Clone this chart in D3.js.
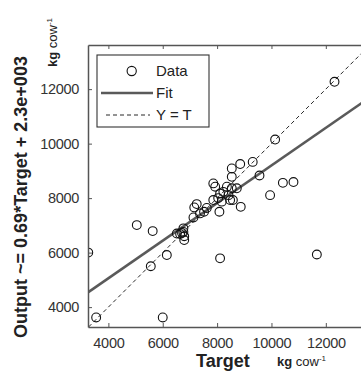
<!DOCTYPE html>
<html><head><meta charset="utf-8">
<script src="https://cdn.jsdelivr.net/npm/d3@7"></script>
<style>
html,body{margin:0;padding:0;background:#fff;overflow:hidden}
svg{display:block;font-family:"Liberation Sans",Arial,sans-serif}
</style></head>
<body>
<script>
// Data: Target vs Output (kg cow^-1)
const target = [3260,3550,6000,5045,5630,6150,5560,6520,6640,6760,6790,6790,6710,6760,
  7160,7130,7370,7520,7250,7620,7860,7930,7860,8085,8110,8230,8360,8540,8420,8725,8580,8870,
  8540,8540,8850,9310,9560,9950,10420,10810,10135,12320,8110,11670,8040,8480,8170];
const output = [6000,3620,3620,7010,6790,5910,5500,6700,6680,6760,6600,6460,6720,6890,
  7660,7290,7440,7500,7780,7640,8540,8420,7930,7500,8170,8230,8420,8360,8110,8360,7930,7680,
  9090,8780,9250,9330,8830,8110,8560,8590,10150,12270,5790,5930,8000,7930,7870];
const xTicks = [4000,6000,8000,10000,12000];
const yTicks = [4000,6000,8000,10000,12000];
const fitSlope = 0.69, fitIntercept = 2300;
const legendLabels = ["Data","Fit","Y = T"];
const xDomain = [3250,13600], yDomain = [3270,13620];

const W = 361, H = 375;
const svg = d3.select("body").append("svg").attr("width",W).attr("height",H);
const L = 88, R = 369.3, T = 45, B = 327;
const x = d3.scaleLinear().domain(xDomain).range([L,R]);
const y = d3.scaleLinear().domain(yDomain).range([B,T]);

svg.append("defs").append("clipPath").attr("id","pc")
  .append("rect").attr("x",L).attr("y",T).attr("width",R-L).attr("height",B-T);
const plot = svg.append("g").attr("clip-path","url(#pc)");

// Y = T dashed
plot.append("line")
  .attr("x1",x(yDomain[0])).attr("y1",y(yDomain[0]))
  .attr("x2",x(xDomain[1])).attr("y2",y(xDomain[1]))
  .attr("stroke","#111").attr("stroke-width",0.9).attr("stroke-dasharray","4,3");
// Fit
plot.append("line")
  .attr("x1",x(xDomain[0])).attr("y1",y(fitSlope*xDomain[0]+fitIntercept))
  .attr("x2",x(xDomain[1])).attr("y2",y(fitSlope*xDomain[1]+fitIntercept))
  .attr("stroke","#5a5a5a").attr("stroke-width",2.6);
// points
plot.selectAll("circle.pt").data(target.map((t,i)=>[t,output[i]])).enter()
  .append("circle").attr("class","pt")
  .attr("cx",d=>x(d[0])).attr("cy",d=>y(d[1])).attr("r",4.4)
  .attr("fill","none").attr("stroke","#111").attr("stroke-width",1.1);

// axes
const axCol = "#555";
const gx = svg.append("g").attr("transform",`translate(0,${B})`)
  .call(d3.axisBottom(x).tickValues(xTicks).tickSizeInner(-4).tickSizeOuter(0).tickPadding(10).tickFormat(d3.format("d")));
const gxt = svg.append("g").attr("transform",`translate(0,${T})`)
  .call(d3.axisTop(x).tickValues(xTicks).tickSizeInner(-4).tickSizeOuter(0).tickFormat(""));
const gy = svg.append("g").attr("transform",`translate(${L},0)`)
  .call(d3.axisLeft(y).tickValues(yTicks).tickSizeInner(-4).tickSizeOuter(0).tickPadding(9).tickFormat(d3.format("d")));
[gx,gxt,gy].forEach(g=>{
  g.select(".domain").attr("stroke",axCol).attr("stroke-width",1.5);
  g.selectAll(".tick line").attr("stroke",axCol).attr("stroke-width",1);
  g.selectAll("text").attr("fill","#333").style("font-size","14.5px")
   .style("font-family","'Liberation Sans',Arial,sans-serif").attr("letter-spacing","-0.3");
});
gx.selectAll(".tick text").attr("dy","0.75em");

// Legend
const lg = svg.append("g");
lg.append("rect").attr("x",97).attr("y",55).attr("width",112).attr("height",72)
  .attr("fill","#fff").attr("stroke","#333").attr("stroke-width",1.1);
lg.append("circle").attr("cx",131.7).attr("cy",71).attr("r",4.6)
  .attr("fill","none").attr("stroke","#111").attr("stroke-width",1.1);
lg.append("line").attr("x1",101).attr("x2",153).attr("y1",93).attr("y2",93)
  .attr("stroke","#5a5a5a").attr("stroke-width",2.6);
lg.append("line").attr("x1",106).attr("x2",150).attr("y1",115).attr("y2",115)
  .attr("stroke","#111").attr("stroke-width",0.9).attr("stroke-dasharray","4,3");
lg.selectAll("text").data(legendLabels).enter().append("text")
  .attr("x",156).attr("y",(d,i)=>76+i*22).text(d=>d)
  .style("font-size","15px").attr("fill","#222");

// Y label
svg.append("text").attr("transform","translate(27,197) rotate(-90)")
  .attr("text-anchor","middle").style("font-size","18px").style("font-weight","bold")
  .attr("fill","#222").text("Output ~= 0.69*Target + 2.3e+003");
const yu = svg.append("text").attr("transform","translate(57,67) rotate(-90)")
  .style("font-size","13px").attr("fill","#222");
yu.append("tspan").style("font-weight","bold").text("kg");
yu.append("tspan").text(" cow");
yu.append("tspan").attr("dy","-5").style("font-size","8px").text("-1");

// X label
svg.append("text").attr("x",196).attr("y",367).style("font-size","18px")
  .style("font-weight","bold").attr("fill","#222").text("Target");
const xu = svg.append("text").attr("x",277).attr("y",366).style("font-size","13px").attr("fill","#222");
xu.append("tspan").style("font-weight","bold").text("kg");
xu.append("tspan").text(" cow");
xu.append("tspan").attr("dy","-5").style("font-size","8px").text("-1");
</script>
</body></html>
